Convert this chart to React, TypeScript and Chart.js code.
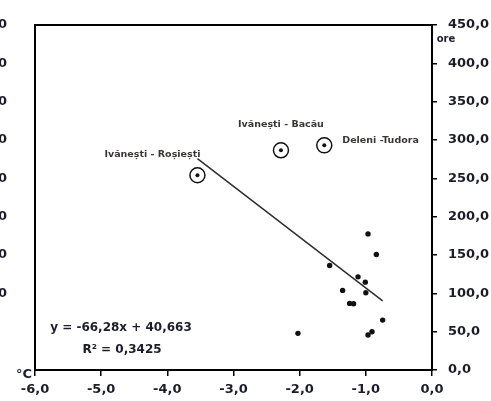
import React, { useEffect, useRef } from "react";
import Chart from "chart.js/auto";

// ---- data ----
const stationX = [-0.967, -0.841, -1.547, -1.118, -1.008, -1.351, -1.0, -1.245, -1.185, -0.746, -2.026, -0.967, -0.907];
const stationY = [177.5, 150.7, 136.4, 121.5, 114.6, 103.8, 100.7, 86.9, 86.4, 65.1, 47.8, 45.6, 49.9];
const namedX = [-3.545, -2.283, -1.628];
const namedY = [254.0, 286.5, 293.0];
const namedLabels = ["Ivănești - Roșiești", "Ivănești - Bacău", "Deleni -Tudora"];
const trendSlope = -66.28;
const trendIntercept = 40.663;
const trendRangeX = [-3.545, -0.746];
const equationText = "y = -66,28x + 40,663";
const r2Text = "R² = 0,3425";
const xUnit = "°C";
const yUnit = "ore";
const xMin = -6, xMax = 0, xStep = 1;
const yMin = 0, yMax = 450, yStep = 50;

const fmt = (v: number) => v.toFixed(1).replace(".", ",");

const TICK_FONT = { family: "'DejaVu Sans'", size: 13, weight: "bold" as const };
const TICK_COLOR = "#1d1d2a";

export default function App() {
  const ref = useRef<HTMLCanvasElement | null>(null);
  useEffect(() => {
    if (!ref.current) return;
    const labelPlacement = [
      { dx: -45, dy: -21, align: "center" as CanvasTextAlign },
      { dx: 0, dy: -26, align: "center" as CanvasTextAlign },
      { dx: 18, dy: -5, align: "left" as CanvasTextAlign },
    ];
    const annot = {
      id: "annot",
      beforeDatasetsDraw(chart: any) {
        const { ctx, chartArea: a } = chart;
        ctx.save();
        ctx.strokeStyle = "#000";
        ctx.lineWidth = 2;
        ctx.strokeRect(a.left, a.top, a.right - a.left, a.bottom - a.top);
        ctx.restore();
      },
      afterDatasetsDraw(chart: any) {
        const { ctx, chartArea: a } = chart;
        const xs = chart.scales.x, ys = chart.scales.y;
        ctx.save();
        ctx.textBaseline = "middle";
        ctx.fillStyle = "#3b3636";
        ctx.font = "bold 9.5px 'DejaVu Sans'";
        namedLabels.forEach((t, i) => {
          const p = labelPlacement[i];
          ctx.textAlign = p.align;
          ctx.fillText(t, xs.getPixelForValue(namedX[i]) + p.dx, ys.getPixelForValue(namedY[i]) + p.dy);
        });
        ctx.fillStyle = TICK_COLOR;
        ctx.textAlign = "center";
        ctx.font = "bold 12px 'DejaVu Sans'";
        ctx.fillText(equationText, a.left + 86, a.bottom - 42);
        ctx.fillText(r2Text, a.left + 87, a.bottom - 20);
        ctx.font = "bold 13px 'DejaVu Sans'";
        ctx.fillText(xUnit, a.left - 11, a.bottom + 5);
        ctx.font = "bold 10px 'DejaVu Sans'";
        ctx.fillText(yUnit, a.right + 14, a.top + 14);
        ctx.restore();
      },
    };
    const chart = new Chart(ref.current, {
      type: "scatter",
      data: {
        datasets: [
          {
            type: "line",
            data: trendRangeX.map((x) => ({ x, y: trendSlope * x + trendIntercept })),
            borderColor: "#2e2e2e",
            borderWidth: 1.5,
            pointRadius: 0,
            fill: false,
          } as any,
          {
            data: namedX.map((x, i) => ({ x, y: namedY[i] })),
            pointRadius: 7.5,
            pointBorderWidth: 1.5,
            pointBorderColor: "#111",
            pointBackgroundColor: "rgba(255,255,255,0)",
          },
          {
            data: namedX.map((x, i) => ({ x, y: namedY[i] })),
            pointRadius: 2,
            pointBorderWidth: 0,
            pointBackgroundColor: "#111",
          },
          {
            data: stationX.map((x, i) => ({ x, y: stationY[i] })),
            pointRadius: 2.7,
            pointBorderWidth: 0,
            pointBackgroundColor: "#111",
          },
        ],
      },
      options: {
        animation: false,
        responsive: false,
        layout: { autoPadding: false, padding: { top: 25, left: 0, right: 0, bottom: 0 } },
        plugins: { legend: { display: false }, tooltip: { enabled: false } },
        scales: {
          x: {
            type: "linear",
            position: "bottom",
            min: xMin,
            max: xMax,
            afterFit: (s: any) => { s.height = 31; },
            border: { display: false },
            grid: { drawOnChartArea: false, drawTicks: true, tickLength: 6, color: "#000", lineWidth: 1.5 },
            ticks: { stepSize: xStep, padding: 6, color: TICK_COLOR, font: TICK_FONT, callback: (v: any) => fmt(Number(v)), maxRotation: 0 },
          },
          y: {
            type: "linear",
            position: "right",
            min: yMin,
            max: yMax,
            afterFit: (s: any) => { s.width = 59; s.paddingTop = 0; s.paddingBottom = 0; },
            border: { display: false },
            grid: { drawOnChartArea: false, drawTicks: true, tickLength: 5, color: "#000", lineWidth: 1.5 },
            ticks: { stepSize: yStep, padding: 11, color: TICK_COLOR, font: TICK_FONT, callback: (v: any) => fmt(Number(v)) },
          },
          yL: {
            type: "linear",
            position: "left",
            min: yMin,
            max: yMax,
            afterFit: (s: any) => { s.width = 35; s.paddingTop = 0; s.paddingBottom = 0; },
            border: { display: false },
            grid: { drawOnChartArea: false, drawTicks: false },
            ticks: { stepSize: yStep, padding: 28, color: TICK_COLOR, font: TICK_FONT, callback: (v: any) => (Number(v) >= 100 ? fmt(Number(v)) : "") },
          },
        },
      },
      plugins: [annot],
    } as any);
    return () => chart.destroy();
  }, []);
  return (
    <div style={{ position: "fixed", left: 0, top: 0, width: 491, height: 401, background: "#fff" }}>
      <canvas ref={ref} width={491} height={401} />
    </div>
  );
}
